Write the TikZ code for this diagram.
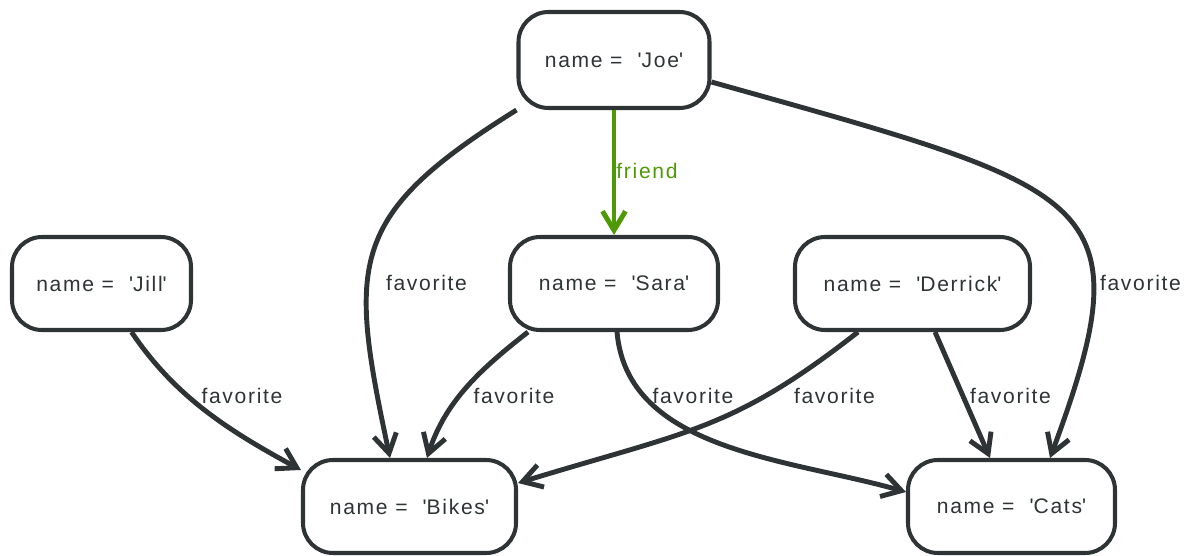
\documentclass[tikz,border=0pt]{standalone}
\usepackage{fontspec}
\setmainfont{Liberation Sans}[LetterSpace=8]
\usepackage{tikz}
\usetikzlibrary{arrows.meta}
\definecolor{GraphDark}{RGB}{46, 52, 54}
\definecolor{GraphGreen}{RGB}{78, 154, 6}
\newcommand{\nodename}[1]{name =\ \ \textquotesingle #1\textquotesingle}

\tikzset{
  entity/.style={draw=GraphDark, line width=2.3pt, rounded corners=0.6cm,
    minimum height=1.86cm, text=GraphDark, font=\fontsize{12}{14}\selectfont},
  rel/.style={draw=GraphDark, line width=2.8pt,
    -{Straight Barb[length=3.8mm, width=4.6mm]}},
  rellabel/.style={text=GraphDark, font=\fontsize{12}{14}\selectfont, inner sep=0pt}
}

\begin{document}
\begin{tikzpicture}
  \useasboundingbox (0,0) rectangle (23.84,-11.12);

  % entities
  \node[entity, minimum width=3.82cm, minimum height=1.92cm] (joe) at (12.28,-1.2) {\nodename{Joe}};
  \node[entity, minimum width=3.58cm] (jill) at (2.03,-5.67) {\nodename{Jill}};
  \node[entity, minimum width=4.16cm] (sara) at (12.28,-5.67) {\nodename{Sara}};
  \node[entity, minimum width=4.7cm] (derrick) at (18.25,-5.67) {\nodename{Derrick}};
  \node[entity, minimum width=4.26cm] (bikes) at (8.19,-10.13) {\nodename{Bikes}};
  \node[entity, minimum width=4.14cm] (cats) at (20.23,-10.13) {\nodename{Cats}};

  % friend
  \draw[rel, draw=GraphGreen] (joe.south) -- (sara.north);
  \node[rellabel, text=GraphGreen] (lfriend) at (12.94,-3.42) {friend};

  % favorites
  \draw[rel] (joe.south west) .. controls +(212:4) and +(102:4) .. ([xshift=-0.39cm]bikes.north);
  \draw[rel] ([yshift=-0.44cm]joe.east) .. controls +(-15.7:8) and +(69.6:5.6) .. ([xshift=0.77cm]cats.north);
  \draw[rel] ([xshift=0.6cm]jill.south) .. controls +(-56:1.6) and +(151.4:1.6) .. ([yshift=0.73cm]bikes.west);
  \draw[rel] ([xshift=-1.72cm]sara.south) .. controls +(218:1.2) and +(72:1.2) .. ([xshift=0.35cm]bikes.north);
  \draw[rel] ([xshift=0.06cm]sara.south) .. controls +(-85:2.4) and +(164:2.4) .. ([yshift=0.29cm]cats.west);
  \draw[rel] ([xshift=-1.09cm]derrick.south) .. controls +(218:3.2) and +(17:3.6) .. ([yshift=0.47cm]bikes.east);
  \draw[rel] ([xshift=0.45cm]derrick.south) -- ([xshift=-0.43cm]cats.north);

  \node[rellabel] (ljoebikes) at (8.53,-5.66) {favorite};
  \node[rellabel] (ljoecats) at (22.81,-5.66) {favorite};
  \node[rellabel] (ljillbikes) at (4.84,-7.92) {favorite};
  \node[rellabel] (lsarabikes) at (10.28,-7.92) {favorite};
  \node[rellabel] (lsaracats) at (13.86,-7.92) {favorite};
  \node[rellabel] (lderrickbikes) at (16.69,-7.92) {favorite};
  \node[rellabel] (lderrickcats) at (20.21,-7.92) {favorite};
\end{tikzpicture}
\end{document}
